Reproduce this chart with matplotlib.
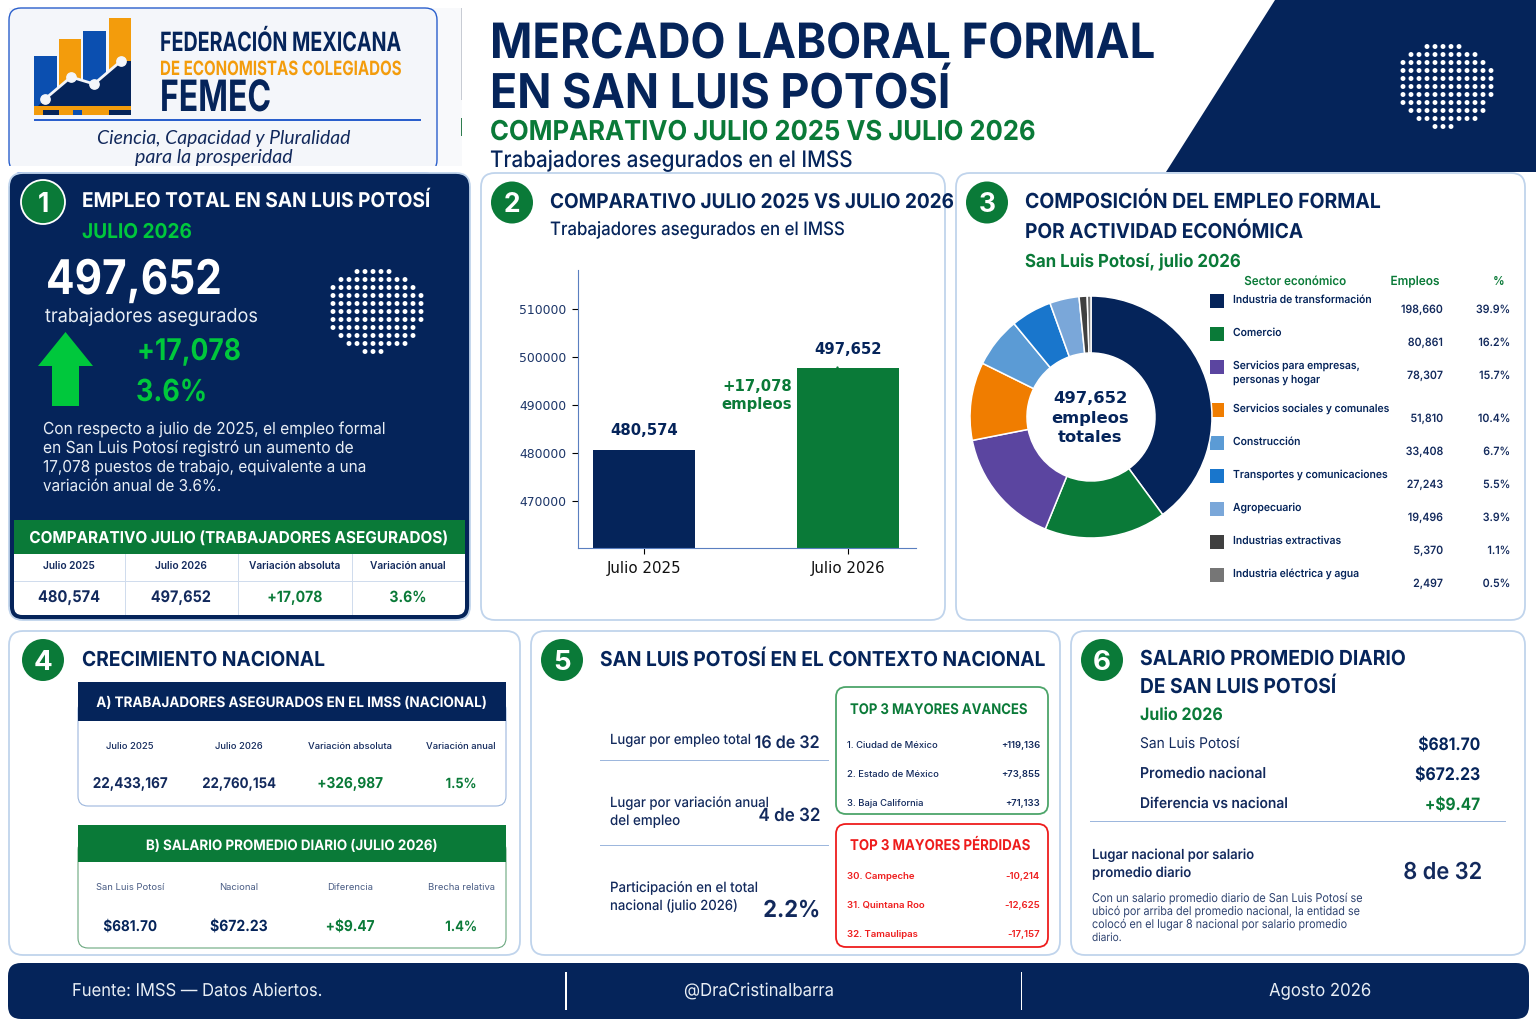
import matplotlib
matplotlib.use('Agg')
import matplotlib.pyplot as plt
import matplotlib.patheffects as pe
from matplotlib.patches import FancyBboxPatch, Polygon, Rectangle, Circle
from matplotlib.transforms import Affine2D

NAVY = '#05245a'
GREEN = '#0a7a38'
BRIGHT = '#00c83c'
EDGE = '#c0d4ec'
LINE = '#9db7dd'
RED = '#ee1c1c'
INK = '#12295c'

# bar chart
bar_labels = ['Julio 2025', 'Julio 2026']
bar_values = [480574, 497652]
bar_text = ['480,574', '497,652']

# donut + table
sectors = ['Industria de transformación', 'Comercio', 'Servicios para empresas,\npersonas y hogar',
           'Servicios sociales y comunales', 'Construcción', 'Transportes y comunicaciones',
           'Agropecuario', 'Industrias extractivas', 'Industria eléctrica y agua']
empleos = [198660, 80861, 78307, 51810, 33408, 27243, 19496, 5370, 2497]
shares = ['39.9%', '16.2%', '15.7%', '10.4%', '6.7%', '5.5%', '3.9%', '1.1%', '0.5%']
sector_colors = ['#05245a', '#0a7a38', '#5b45a0', '#f07d00', '#5b9bd5', '#1976cc', '#7aa7d9', '#404040', '#767676']

# small tables
comp_heads = ['Julio 2025', 'Julio 2026', 'Variación absoluta', 'Variación anual']
comp_vals = ['480,574', '497,652', '+17,078', '3.6%']
nat_vals = ['22,433,167', '22,760,154', '+326,987', '1.5%']
sal_heads = ['San Luis Potosí', 'Nacional', 'Diferencia', 'Brecha relativa']
sal_vals = ['$681.70', '$672.23', '+$9.47', '1.4%']
top_names = ['1. Ciudad de México', '2. Estado de México', '3. Baja California']
top_vals = ['+119,136', '+73,855', '+71,133']
low_names = ['30. Campeche', '31. Quintana Roo', '32. Tamaulipas']
low_vals = ['-10,214', '-12,625', '-17,157']

fig = plt.figure(figsize=(15.36, 10.24), dpi=100, facecolor='white')
ax = fig.add_axes([0, 0, 1, 1])
ax.set_xlim(0, 1536)
ax.set_ylim(1024, 0)
ax.axis('off')
plt.rcParams['font.family'] = ['Inter', 'DejaVu Sans']
renderer = fig.canvas.get_renderer()


class Squeeze(pe.AbstractPathEffect):
    # narrows a text about its anchor, the reference has tight tracking
    def __init__(self, sx, x0):
        super().__init__()
        self.sx = sx
        self.x0 = x0

    def draw_path(self, renderer, gc, tpath, affine, rgbFace=None):
        squeeze = Affine2D().translate(-self.x0, 0).scale(self.sx, 1).translate(self.x0, 0)
        renderer.draw_path(gc, tpath, affine + squeeze, rgbFace)


def T(x, y, s, w=None, size=10, color=NAVY, weight='bold', ha='left', family=None, style='normal', h=None):
    # y is the baseline in pixels, w the wanted width in pixels, h how much taller than a plain fit
    t = ax.text(x, y, s, fontsize=size, color=color, fontweight=weight, ha=ha, va='baseline', style=style, zorder=6)
    if family:
        t.set_family(family)
    if h is None:
        h = 1.07 if w else 1
    if w:
        t.set_fontsize(size * w / t.get_window_extent(renderer).width)
    if h != 1:
        t.set_fontsize(t.get_fontsize() * h)
        t.set_path_effects([Squeeze(1 / h, x)])
    return t


def box(x0, y0, x1, y1, r=14, fc='white', ec=EDGE, lw=1.3, z=1):
    ax.add_patch(FancyBboxPatch((x0, y0), x1 - x0, y1 - y0, boxstyle=f'round,pad=0,rounding_size={r}',
                                fc=fc, ec=ec, lw=lw, zorder=z))


def rect(x0, y0, x1, y1, c, z=3):
    ax.add_patch(Rectangle((x0, y0), x1 - x0, y1 - y0, fc=c, ec='none', zorder=z))


def badge(x, y, s, base, r=21, ec='none', size=19):
    ax.add_patch(Circle((x, y), r, fc=GREEN, ec=ec, lw=1.3, zorder=4))
    T(x, base, s, size=size, color='white', ha='center')


def dots(ox, oy):
    rows = [(24, 5), (8, 9), (0, 11), (0, 12), (0, 12), (0, 12), (0, 12), (0, 11), (8, 10), (16, 8), (32, 3)]
    for i, (off, n) in enumerate(rows):
        for j in range(n):
            ax.add_patch(Circle((ox + off + j * 8, oy + i * 8), 2.45, fc='white', ec='none', zorder=5))


# header
ax.add_patch(Polygon([(1275, 0), (1536, 0), (1536, 172), (1166, 172)], fc=NAVY, ec='none', zorder=0))
dots(1403, 46.5)
T(490, 58, 'MERCADO LABORAL FORMAL', w=665, size=34)
T(490, 108, 'EN SAN LUIS POTOSÍ', w=460, size=34)
T(490, 140, 'COMPARATIVO JULIO 2025 VS JULIO 2026', w=546, size=20, color=GREEN)
T(490, 167, 'Trabajadores asegurados en el IMSS', w=362, size=16, weight='medium', h=1.1)

# logo
rect(9, 8, 462, 166, '#f8f9fb', z=0)
box(9, 8, 437, 172, r=12, fc='#f4f6fa', ec='#2a5fcc', lw=1)
for x0, x1, top, c in [(34, 57, 56, '#0b4fb0'), (59, 81, 39, '#f39c0c'), (83, 106, 31, '#0b4fb0'), (109, 131, 18, '#f39c0c')]:
    rect(x0, top, x1, 106, c)
rect(34, 106, 131, 115, '#f39c0c')
for x0, x1, c in [(43, 59, NAVY), (73, 82, '#0b4fb0'), (109, 131, NAVY)]:
    rect(x0, 110, x1, 115, c)
ax.add_patch(Polygon([(45, 99), (71, 77), (94, 84), (121, 61), (131, 61), (131, 106), (38, 106)], fc=NAVY, ec='none', zorder=3))
lx, ly = [45, 71, 94, 121], [99, 77, 84, 61]
ax.plot(lx, ly, color='#f4f6fa', lw=2, zorder=4)
ax.scatter(lx, ly, s=45, color='#f4f6fa', zorder=4)
rect(34, 119, 421, 120.5, '#2a5fcc')
T(160, 51, 'FEDERACIÓN MEXICANA', w=241, size=22, h=1.35)
T(160, 75, 'DE ECONOMISTAS COLEGIADOS', w=241, size=18, color='#f39c0c', h=1.3)
T(160, 111, 'FEMEC', w=111, size=30, h=1.35)
T(97, 144, 'Ciencia, Capacidad y Pluralidad', w=255, size=14, weight='normal', style='italic', family=['Lato', 'DejaVu Sans'], color=INK, h=1)
T(135, 163, 'para la prosperidad', w=158, size=14, weight='normal', style='italic', family=['Lato', 'DejaVu Sans'], color=INK, h=1)
rect(0, 166, 470, 172, 'white', z=5)
rect(461, 8, 462, 100, '#c8ccd4')
rect(460.5, 118, 462, 136, '#2f7d4f')

# panels
box(9, 173, 470, 620, fc=NAVY)
box(481, 173, 945, 620)
box(956, 173, 1525, 620)
box(9, 631, 520, 955)
box(531, 631, 1060, 955)
box(1071, 631, 1525, 955)

# panel 1
badge(43, 202, '1', 212, r=22, ec='white')
T(82, 207, 'EMPLEO TOTAL EN SAN LUIS POTOSÍ', w=348, size=15, color='white')
T(82, 238, 'JULIO 2026', w=110, size=15, color=BRIGHT)
T(46, 294, '497,652', w=176, size=36, color='white', h=1.13)
T(45, 322, 'trabajadores asegurados', w=213, size=15, color='#e8eef5', weight='normal')
ax.add_patch(Polygon([(65.5, 332), (93, 366), (79, 366), (79, 406), (52, 406), (52, 366), (38, 366)], fc=BRIGHT, ec='none', zorder=3))
T(137, 360, '+17,078', w=104, size=24, color=BRIGHT, h=1.13)
T(136, 401, '3.6%', w=71, size=24, color=BRIGHT, h=1.13)
dots(333, 271.5)
for yy, s, w in [(434, 'Con respecto a julio de 2025, el empleo formal', 342),
                 (453, 'en San Luis Potosí registró un aumento de', 310),
                 (472, '17,078 puestos de trabajo, equivalente a una', 323),
                 (491, 'variación anual de 3.6%.', 178)]:
    T(43, yy, s, w=w, size=13, color='#e8eef5', weight='normal')
box(14, 540, 465, 615, r=8, ec='none', lw=0, z=2)
rect(14, 520, 465, 554, GREEN)
T(239, 543, 'COMPARATIVO JULIO (TRABAJADORES ASEGURADOS)', w=418, size=14, color='white', ha='center')
for x in [125.5, 238.5, 352.5]:
    rect(x - 0.5, 554, x + 0.5, 615, '#d0dced')
rect(14, 581, 465, 582, '#d0dced')
for x, s, v, c, w in zip([69, 181, 295, 408], comp_heads, comp_vals, [INK, INK, GREEN, GREEN], [62, 60, 55, 37]):
    T(x, 569, s, size=7.3, color=INK, weight='semibold', ha='center')
    T(x, 602, v, w=w, size=12.5, color=c, ha='center', h=1.1)

# panel 2
badge(512, 202.5, '2', 212)
T(550, 208, 'COMPARATIVO JULIO 2025 VS JULIO 2026', w=404, size=15)
T(550, 235, 'Trabajadores asegurados en el IMSS', w=295, size=13, weight='medium', h=1.1)
bar_ax = fig.add_axes([578 / 1536, 1 - 548 / 1024, 338 / 1536, 278 / 1024], facecolor='none')
bar_ax.bar([0, 1], bar_values, width=0.5, color=[NAVY, GREEN])
bar_ax.set_xlim(-0.324, 1.333)
bar_ax.set_ylim(460150, 518200)
bar_ax.set_xticks([0, 1], bar_labels, family='DejaVu Sans', fontsize=10.8, color='#111111')
bar_ax.set_yticks([470000, 480000, 490000, 500000, 510000])
bar_ax.set_yticklabels(['470000', '480000', '490000', '500000', '510000'], family='DejaVu Sans', fontsize=8.9, color='#1c3568')
bar_ax.tick_params(axis='y', length=4, width=0.8, pad=4.5)
bar_ax.tick_params(axis='x', length=4, width=0.8, pad=5)
for side in ['top', 'right']:
    bar_ax.spines[side].set_visible(False)
for side in ['left', 'bottom']:
    bar_ax.spines[side].set_color('#5a7fc0')
for i, (v, s) in enumerate(zip(bar_values, bar_text)):
    bar_ax.annotate(s, (i, v), xytext=(0, 10.6), textcoords='offset points', ha='center', va='baseline',
                    family='DejaVu Sans', fontsize=10.7, fontweight='bold', color=NAVY)
bar_ax.plot([0.946], [497700], marker='^', ms=2.5, color=GREEN, clip_on=False)
T(792, 391, '+17,078', size=10.7, color=GREEN, ha='right', family='DejaVu Sans')
T(792, 409, 'empleos', size=10.7, color=GREEN, ha='right', family='DejaVu Sans')

# panel 3
badge(987, 202.5, '3', 212)
T(1025, 208, 'COMPOSICIÓN DEL EMPLEO FORMAL', w=356, size=15)
T(1025, 238, 'POR ACTIVIDAD ECONÓMICA', w=278, size=15)
T(1025, 267, 'San Luis Potosí, julio 2026', w=216, size=13, color=GREEN)
pie_ax = fig.add_axes([(1091 - 121) / 1536, 1 - (417 + 121) / 1024, 242 / 1536, 242 / 1024], facecolor='none')
pie_ax.pie(empleos, colors=sector_colors, startangle=90, counterclock=False, radius=1,
           wedgeprops=dict(width=1 - 64 / 121, edgecolor='white', linewidth=1.1))
pie_ax.set_xlim(-1, 1)
pie_ax.set_ylim(-1, 1)
T(1090, 403, '497,652', size=11.8, ha='center', family='DejaVu Sans')
T(1090, 423, 'empleos', size=11.8, ha='center', family='DejaVu Sans')
T(1090, 442, 'totales', size=11.8, ha='center', family='DejaVu Sans')
T(1295, 285, 'Sector económico', w=102, size=8, color=GREEN, weight='semibold', ha='center')
T(1415, 285, 'Empleos', w=49, size=8, color=GREEN, weight='semibold', ha='center')
T(1499, 285, '%', size=8.3, color=GREEN, weight='semibold', ha='center')
row_tops = [294, 327, 360, 403, 436, 469, 502, 535, 568]
for top, s, v, p, c in zip(row_tops, sectors, empleos, shares, sector_colors):
    rect(1210, top, 1224, top + 14, c)
    for k, part in enumerate(s.split('\n')):
        # target font is tighter, so size + h stay close to the reference widths
        t = T(1233, top + 9 + k * 14, part, size=7.45, color=NAVY, weight='semibold', h=1.07)
    T(1443, top + 19, f'{v:,}', size=7.6, color=INK, weight='semibold', ha='right', h=1.08)
    T(1510, top + 19, p, size=7.6, color=INK, weight='semibold', ha='right', h=1.08)

# panel 4
badge(43, 660, '4', 670, size=20)
T(82, 666, 'CRECIMIENTO NACIONAL', w=243, size=15)
col_x = [130, 239, 350, 461]
box(78, 700, 506, 806, r=10, ec=LINE, lw=0.8, z=2)
rect(78, 682, 506, 721, NAVY)
T(292, 707, 'A) TRABAJADORES ASEGURADOS EN EL IMSS (NACIONAL)', w=391, size=12, color='white', ha='center')
for x, s, v, c, w in zip(col_x, comp_heads, nat_vals, [INK, INK, GREEN, GREEN], [75, 74, 66, 31]):
    T(x, 749, s, size=6.8, color=INK, weight='medium', ha='center')
    T(x, 788, v, w=w, size=11.5, color=c, ha='center', h=1.1)
box(78, 840, 506, 948, r=10, ec='#6aa77f', lw=0.8, z=2)
rect(78, 825, 506, 862, GREEN)
T(292, 850, 'B) SALARIO PROMEDIO DIARIO (JULIO 2026)', w=292, size=11, color='white', ha='center')
for x, s, v, c, w in zip(col_x, sal_heads, sal_vals, [NAVY, NAVY, GREEN, GREEN], [54, 58, 49, 32]):
    T(x, 890, s, size=6.8, color='#4a5d85', weight='normal', ha='center')
    T(x, 931, v, w=w, size=11.5, color=c, ha='center', h=1.1)

# panel 5
badge(562, 660, '5', 670, size=20)
T(600, 666, 'SAN LUIS POTOSÍ EN EL CONTEXTO NACIONAL', w=445, size=15)
T(610, 744, 'Lugar por empleo total', w=141, size=10, color=INK, weight='medium')
T(819.5, 748, '16 de 32', w=65, size=14, ha='right', color=INK, weight='semibold')
rect(600, 760, 829, 761, LINE)
T(610, 807, 'Lugar por variación anual', w=159, size=10, color=INK, weight='medium')
T(610, 825, 'del empleo', w=70, size=10, color=INK, weight='medium')
T(820.5, 821, '4 de 32', w=62, size=14, ha='right', color=INK, weight='semibold')
rect(600, 845, 829, 846, LINE)
T(610, 892, 'Participación en el total', w=148, size=10, color=INK, weight='medium')
T(610, 910, 'nacional (julio 2026)', w=128, size=10, color=INK, weight='medium')
T(820, 917, '2.2%', w=57, size=18, ha='right', color=INK)
box(836, 687, 1048, 814, r=10, ec='#4da56a', lw=1.3, z=2)
T(850, 714, 'TOP 3 MAYORES AVANCES', w=177, size=10.5, color=GREEN, h=1.12)
for i in range(3):
    T(847, 748 + i * 29, top_names[i], size=6.8, color=INK, weight='medium')
    T(1040, 748 + i * 29, top_vals[i], size=6.8, color=INK, weight='semibold', ha='right')
box(836, 824, 1048, 947, r=10, ec=RED, lw=1.3, z=2)
T(850, 850, 'TOP 3 MAYORES PÉRDIDAS', w=180, size=10.5, color=RED, h=1.12)
for i in range(3):
    T(847, 879 + i * 29, low_names[i], size=6.9, color=RED, weight='semibold')
    T(1040, 879 + i * 29, low_vals[i], size=6.9, color=RED, weight='semibold', ha='right')

# panel 6
badge(1102, 660, '6', 670, size=20)
T(1140, 665, 'SALARIO PROMEDIO DIARIO', w=266, size=15)
T(1140, 693, 'DE SAN LUIS POTOSÍ', w=196, size=15)
T(1140, 720, 'Julio 2026', w=83, size=13, color=GREEN)
T(1140, 748, 'San Luis Potosí', w=99, size=11, color=INK, weight='normal')
T(1140, 778, 'Promedio nacional', w=126, size=11, color=INK, weight='semibold')
T(1140, 808, 'Diferencia vs nacional', w=148, size=11, color=INK, weight='semibold')
T(1480, 750, '$681.70', w=62, size=13, ha='right', h=1.1)
T(1480, 780, '$672.23', w=65, size=13, ha='right', h=1.1)
T(1480, 810, '+$9.47', w=55, size=13, ha='right', color=GREEN, h=1.1)
rect(1090, 820.5, 1506, 821.5, LINE)
T(1092, 859, 'Lugar nacional por salario', w=162, size=10, color=INK, weight='semibold')
T(1092, 877, 'promedio diario', w=99, size=10, color=INK, weight='semibold')
T(1482, 879, '8 de 32', w=79, size=17, ha='right', color=INK, weight='semibold')
for yy, s, w in [(902, 'Con un salario promedio diario de San Luis Potosí se', 272),
                 (915, 'ubicó por arriba del promedio nacional, la entidad se', 270),
                 (928, 'colocó en el lugar 8 nacional por salario promedio', 257),
                 (941, 'diario.', 30)]:
    T(1092, yy, s, w=w, size=8, color='#2e4370', weight='normal', h=1.12)

# footer
box(8, 963, 1529, 1019, r=13, fc=NAVY, ec='none', lw=0)
rect(565, 972, 566.5, 1010, 'white')
rect(1020.5, 972, 1022, 1010, 'white')
T(72, 996, 'Fuente: IMSS — Datos Abiertos.', w=250, size=13, color='#e8eef5', weight='normal')
T(759, 996, '@DraCristinaIbarra', w=150, size=13, color='#e8eef5', weight='normal', ha='center')
T(1320, 996, 'Agosto 2026', w=102, size=13, color='#e8eef5', weight='normal', ha='center')

fig.savefig('out.png', dpi=100)
